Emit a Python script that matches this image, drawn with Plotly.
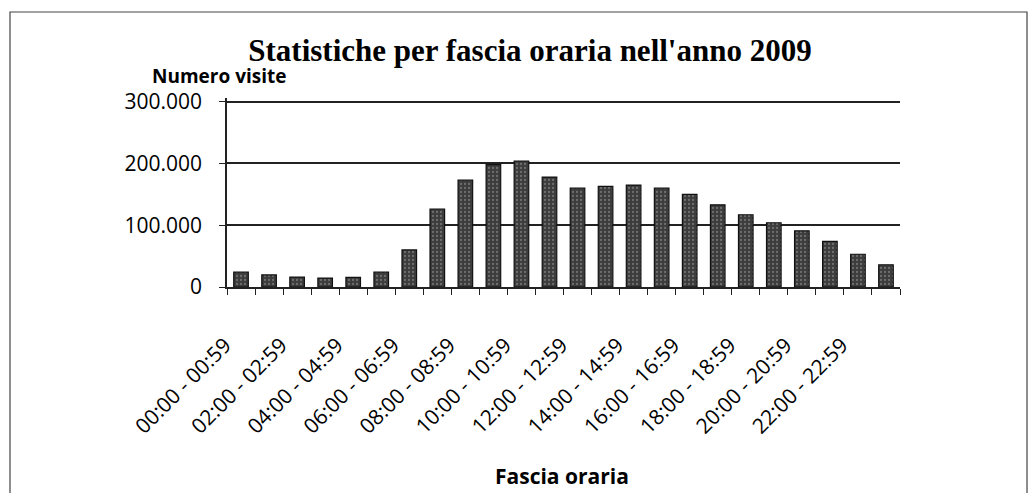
import plotly.graph_objects as go

categories = [f"{h:02d}:00 - {h:02d}:59" for h in range(24)]
visits = [24000, 19500, 16000, 14500, 15500, 24000, 60000, 126000, 173000, 198000, 204000, 178000,
          160000, 163000, 165000, 160000, 150000, 133000, 117000, 104000, 91000, 74000, 53000, 36000]
y_ticks = [0, 100000, 200000, 300000]
y_max = 306000

title_text = "Statistiche per fascia oraria nell'anno 2009"
y_title = "Numero visite"
x_title = "Fascia oraria"

# plot area in pixels: 300k at y=102, 0 at y=287, x 227..900
W, H = 1033, 493
L, R, B = 227, 900, 287
px_per_unit = (287 - 102) / 300000
T = round(B - y_max * px_per_unit)
pw, ph = R - L, B - T

fig = go.Figure()
fig.add_trace(go.Bar(
    x=categories, y=visits, width=0.52,
    marker=dict(color="#3c3c3c", line=dict(color="#111111", width=1.2),
                pattern=dict(shape=".", fgcolor="#a0a0a0", bgcolor="#3c3c3c", size=4, solidity=0.25)),
    showlegend=False,
))

fig.update_layout(
    width=W, height=H,
    margin=dict(l=L, r=W - R, t=T, b=H - B),
    paper_bgcolor="white", plot_bgcolor="white",
    separators=",.",
    font=dict(family="Open Sans, Lato, sans-serif", color="black", size=20),
    title=dict(text=f"<b>{title_text}</b>", x=530 / W, xanchor="center", y=1 - 50 / H, yanchor="middle",
               yref="container",
               font=dict(family="Liberation Serif, Times New Roman, serif", size=31, color="black")),
)
fig.update_yaxes(range=[0, y_max], tickvals=y_ticks, tickformat=",d",
                 showgrid=True, gridcolor="#222222", gridwidth=1.5,
                 showline=True, linecolor="#222222", linewidth=1.5,
                 ticks="outside", ticklen=6, tickcolor="#222222",
                 ticklabelstandoff=13, zeroline=False,
                 tickfont=dict(family="Open Sans, sans-serif", size=21))
fig.update_xaxes(type="category", tickangle=-45, ticklabelstep=2, tickson="boundaries",
                 showline=True, linecolor="#222222", linewidth=1.5, showgrid=False,
                 ticks="outside", ticklen=6, tickcolor="#222222",
                 ticklabelstandoff=36, ticklabelshift=-16,
                 tickfont=dict(family="Open Sans, sans-serif", size=21))

fig.add_annotation(text=f"<b>{y_title}</b>", xref="paper", yref="paper",
                   x=(150 - L) / pw, y=(B - 76) / ph, xanchor="left", yanchor="middle",
                   showarrow=False, font=dict(family="Open Sans, sans-serif", size=19, color="black"))
fig.add_annotation(text=f"<b>{x_title}</b>", xref="paper", yref="paper",
                   x=(562 - L) / pw, y=(B - 476) / ph, xanchor="center", yanchor="middle",
                   showarrow=False, font=dict(family="Open Sans, sans-serif", size=21, color="black"))

fig.add_shape(type="rect", xref="paper", yref="paper",
              x0=(10 - L) / pw, x1=(1027 - L) / pw,
              y0=(B - 505) / ph, y1=(B - 12) / ph,
              line=dict(color="#444444", width=1.2), fillcolor="rgba(0,0,0,0)", layer="below")

fig.write_html("out.html", config={"displayModeBar": False},
               post_script="document.body.style.margin='0px';")
